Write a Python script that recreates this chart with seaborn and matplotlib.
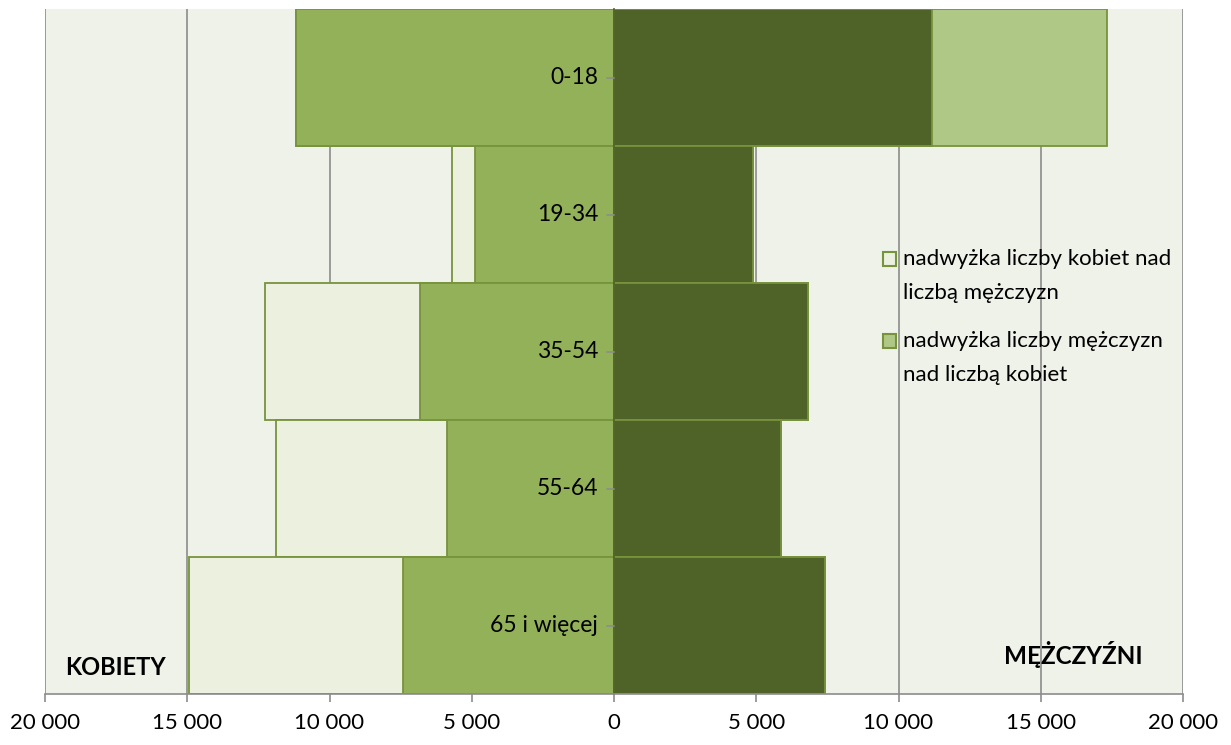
import numpy as np
import pandas as pd
import matplotlib
matplotlib.use("Agg")
import matplotlib.pyplot as plt
import matplotlib.patches as mpatches
import seaborn as sns

# data
age_groups = ["0-18", "19-34", "35-54", "55-64", "65 i więcej"]
women = [11180, 5690, 12270, 11880, 14940]
men = [17330, 4900, 6820, 5870, 7420]
x_ticks = [-20000, -15000, -10000, -5000, 0, 5000, 10000, 15000, 20000]

legend_labels = [
    "nadwyżka liczby kobiet nad\nliczbą mężczyzn",
    "nadwyżka liczby mężczyzn\nnad liczbą kobiet",
]

common = np.minimum(women, men)
df = pd.DataFrame({
    "grupa": age_groups,
    "kobiety": -np.array(women),
    "mezczyzni": np.array(men),
    "wspolne_k": -common,
    "wspolne_m": common,
})

c_pale = "#EBF1DE"
c_mid = "#93B158"
c_dark = "#4F6228"
c_light = "#AFC886"
c_edge = "#77933C"
c_grid = "#8C8C8C"

sns.set_theme(style="white")
plt.rcParams["font.family"] = ["Lato", "DejaVu Sans"]
plt.rcParams["text.color"] = "black"

fig = plt.figure(figsize=(12.31, 7.45), dpi=100)
ax = fig.add_axes([45 / 1231, 51 / 745, 1138 / 1231, 685 / 745])
ax.set_facecolor("#EFF2E9")

bar_kw = dict(y="grupa", orient="h", width=1, saturation=1, edgecolor=c_edge,
              linewidth=1.3, ax=ax, zorder=2)
sns.barplot(data=df, x="kobiety", color=c_pale, **bar_kw)
sns.barplot(data=df, x="wspolne_k", color=c_mid, **bar_kw)
sns.barplot(data=df, x="mezczyzni", color=c_light, **bar_kw)
sns.barplot(data=df, x="wspolne_m", color=c_dark, **bar_kw)

ax.set_xlim(-20000, 20000)
ax.set_ylim(4.5, -0.5)
ax.set_xticks(x_ticks)
ax.set_xticklabels([f"{abs(v):,}".replace(",", " ") for v in x_ticks], fontsize=16)
ax.set_xlabel("")
ax.set_ylabel("")
ax.set_yticklabels([])

ax.xaxis.grid(True, color=c_grid, linewidth=1.2, zorder=0)
ax.yaxis.grid(False)
ax.set_axisbelow(True)

ax.spines["top"].set_visible(False)
ax.spines["right"].set_visible(False)
ax.spines["left"].set_position(("data", 0))
ax.spines["left"].set_color(c_dark)
ax.spines["bottom"].set_color(c_grid)
ax.spines["bottom"].set_linewidth(1.2)

ax.tick_params(axis="x", bottom=True, length=6, color=c_grid, width=1.2, pad=8, labelcolor="black")
ax.tick_params(axis="y", left=False)

# category labels sit inside the bars, left of the zero line
for i, g in enumerate(age_groups):
    ax.text(-560, i, g, fontsize=16.5, ha="right", va="center", zorder=5)
    ax.plot([-250, 0], [i, i], color=c_grid, lw=1.2, zorder=5)

ax.text(-19300, 4.31, "KOBIETY", fontsize=17, fontweight="bold", ha="left", va="center")
ax.text(18590, 4.21, "MĘŻCZYŹNI", fontsize=17.5, fontweight="bold", ha="right", va="center")

# legend drawn by hand so the squares line up with the first text line
tr = ax.transAxes
for k, (lab, fc) in enumerate(zip(legend_labels, [c_pale, c_light])):
    y_top = (694 - 258 - k * 82) / 685
    ax.add_patch(mpatches.Rectangle((838 / 1138, y_top - 8 / 685), 13 / 1138, 14 / 685,
                                    transform=tr, facecolor=fc, edgecolor=c_edge,
                                    linewidth=1.5, zorder=6, clip_on=False))
    ax.text(858 / 1138, y_top + 9 / 685, lab, transform=tr, fontsize=16, ha="left",
            va="top", linespacing=1.9, zorder=6)

fig.savefig("out.png", dpi=100)
